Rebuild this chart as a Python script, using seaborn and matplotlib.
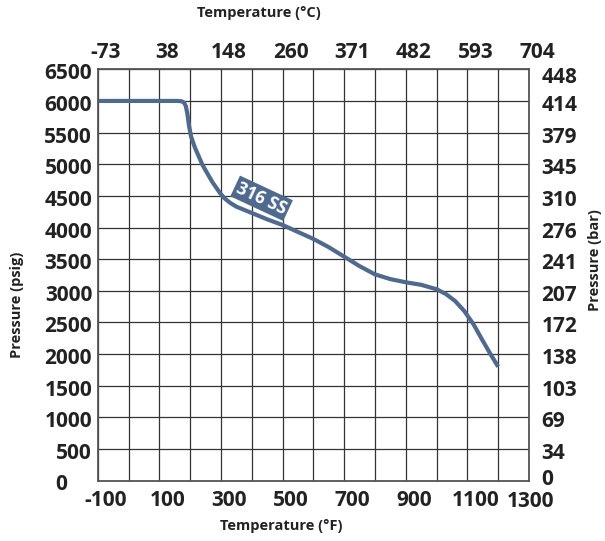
import numpy as np
import pandas as pd
import matplotlib
matplotlib.use("Agg")
import matplotlib.pyplot as plt
import matplotlib.transforms as mtransforms
import seaborn as sns

# Rated pressure of 316 SS versus temperature
temp_f = [-100, 160, 172, 180, 186, 191, 196, 203, 215, 240, 272, 297, 312, 330,
          350, 370, 400, 450, 500, 550, 600, 650, 700, 750, 800, 850, 900, 950,
          1000, 1030, 1060, 1090, 1120, 1150, 1175, 1200]
pressure_psig = [6000, 6000, 5995, 5975, 5920, 5800, 5620, 5440, 5270, 4990, 4720,
                 4545, 4460, 4390, 4330, 4290, 4230, 4130, 4040, 3930, 3820, 3690,
                 3540, 3390, 3260, 3185, 3135, 3095, 3025, 2950, 2840, 2680, 2470,
                 2210, 2000, 1800]

# Axis ticks and their labels
f_ticks = [-100, 100, 300, 500, 700, 900, 1100, 1300]
c_labels = ["-73", "38", "148", "260", "371", "482", "593", "704"]
psig_ticks = [0, 500, 1000, 1500, 2000, 2500, 3000, 3500, 4000, 4500, 5000, 5500, 6000, 6500]
bar_labels = ["0", "34", "69", "103", "138", "172", "207", "241", "276", "310",
              "345", "379", "414", "448"]

series_name = "316 SS"
label_temp_f = 432
label_psig = 4462

df = pd.DataFrame({"temp_f": temp_f, "psig": pressure_psig})

sns.set_theme(style="white")
plt.rcParams["font.family"] = ["Open Sans", "DejaVu Sans"]
plt.rcParams["font.weight"] = "bold"

W, H = 605, 541
fig = plt.figure(figsize=(W / 100, H / 100), dpi=100)
ax = fig.add_axes([97.7 / W, 1 - 480.7 / H, (529 - 97.7) / W, (480.7 - 69.3) / H])

line_color = "#506a8e"
grid_color = "#333333"
tick_fs = 15
title_fs = 10.5
text_color = "#222222"

sns.lineplot(data=df, x="temp_f", y="psig", ax=ax, color=line_color, lw=3.0,
             sort=False, estimator=None)
ax.lines[0].set_solid_capstyle("butt")
ax.lines[0].set_solid_joinstyle("round")

ax.set_xlim(-100, 1300)
ax.set_ylim(0, 6500)
ax.set_xticks(f_ticks)
ax.set_xticks(np.arange(0, 1300, 200), minor=True)
ax.set_yticks(psig_ticks)
ax.set_xticklabels([str(v) for v in f_ticks])
ax.set_yticklabels([str(v) for v in psig_ticks])
ax.grid(True, which="both", axis="x", color=grid_color, lw=0.9)
ax.grid(True, which="major", axis="y", color=grid_color, lw=0.9)
ax.set_axisbelow(True)
ax.tick_params(axis="both", which="both", length=0, labelsize=tick_fs,
               labelcolor=text_color)
ax.tick_params(axis="x", pad=6.5)
ax.tick_params(axis="y", pad=4)
for s in ax.spines.values():
    s.set_color("#555555")
    s.set_linewidth(1.3)
ax.set_xlabel("")
ax.set_ylabel("")

# Celsius along the top
axt = ax.twiny()
axt.set_xlim(ax.get_xlim())
axt.set_xticks(f_ticks)
axt.set_xticklabels(c_labels)
axt.tick_params(axis="x", length=0, labelsize=tick_fs, pad=4.3, labelcolor=text_color)
axt.grid(False)

# bar along the right
axr = ax.twinx()
axr.set_ylim(ax.get_ylim())
axr.set_yticks(psig_ticks)
axr.set_yticklabels(bar_labels)
axr.tick_params(axis="y", length=0, labelsize=tick_fs, pad=9, labelcolor=text_color)
axr.grid(False)
for a in (axt, axr):
    for s in a.spines.values():
        s.set_visible(False)


def shift(lab, dx, dy):
    lab.set_transform(lab.get_transform() +
                      mtransforms.ScaledTranslation(dx / 100, dy / 100, fig.dpi_scale_trans))


for lab in ax.get_xticklabels()[:-1] + axt.get_xticklabels():
    lab.set_fontweight("bold")
    shift(lab, 8, 0)
ax.get_xticklabels()[-1].set_fontweight("bold")
shift(ax.get_xticklabels()[-1], 2, -1)
for lab in ax.get_yticklabels() + axr.get_yticklabels():
    lab.set_fontweight("bold")
    shift(lab, 0, -2)
# the zero labels sit clear of the corner
shift(ax.get_yticklabels()[0], -25, 1)
shift(axr.get_yticklabels()[0], 0, 6)
shift(axr.get_yticklabels()[-1], 0, -4)

ax.text(label_temp_f, label_psig, series_name, rotation=-25, rotation_mode="anchor",
        ha="center", va="center", color="white", fontsize=12.5, fontweight="bold",
        bbox=dict(boxstyle="square,pad=0.14", fc=line_color, ec="none"), zorder=5)

fig.text(259 / W, 1 - 13 / H, "Temperature (°C)", ha="center", va="center",
         fontsize=title_fs, fontweight="bold", color=text_color)
fig.text(281 / W, 1 - 526 / H, "Temperature (°F)", ha="center", va="center",
         fontsize=title_fs, fontweight="bold", color=text_color)
fig.text(17 / W, 1 - 305 / H, "Pressure (psig)", ha="center", va="center",
         rotation=90, fontsize=title_fs, fontweight="bold", color=text_color)
fig.text(595 / W, 1 - 260 / H, "Pressure (bar)", ha="center", va="center",
         rotation=90, fontsize=title_fs, fontweight="bold", color=text_color)

fig.savefig("out.png", dpi=100)
